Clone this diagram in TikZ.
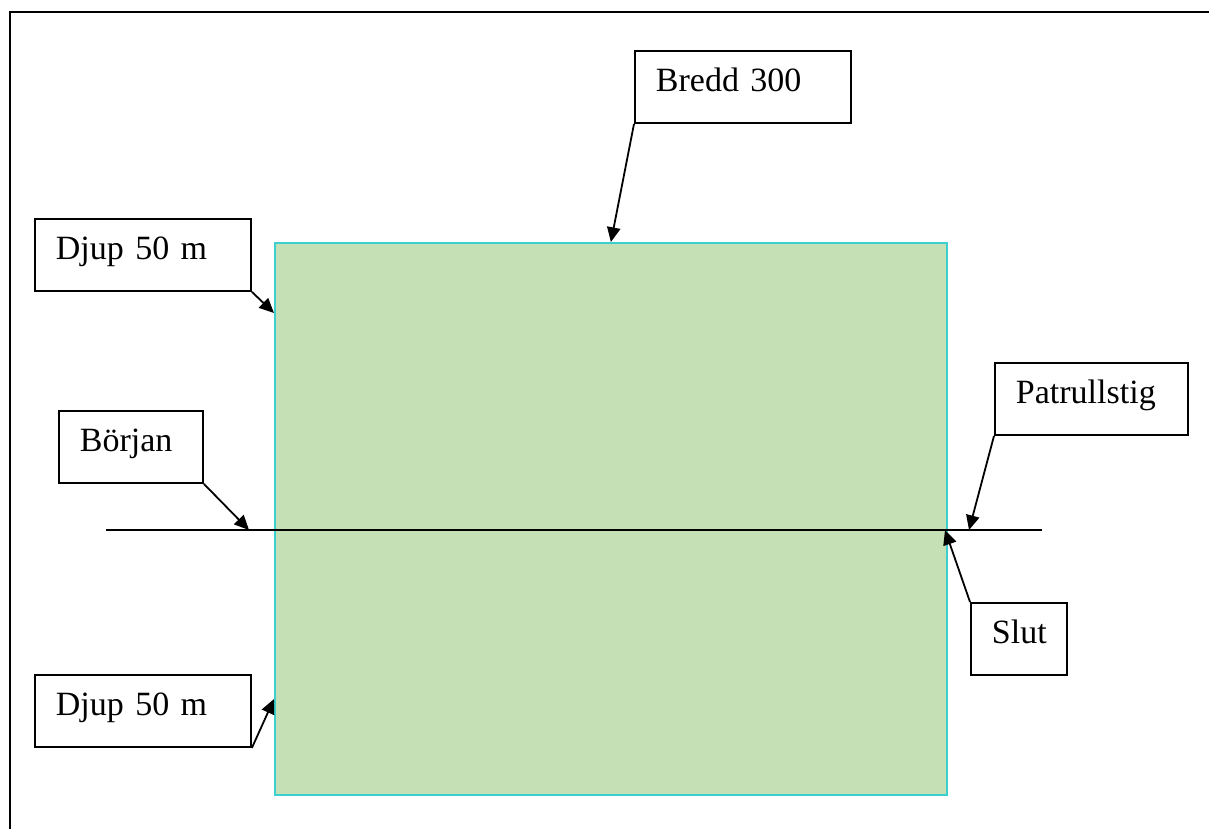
\documentclass[tikz,border=0pt]{standalone}
\usepackage{fontspec}
\setmainfont{Liberation Serif}
\usetikzlibrary{arrows.meta}
\newlength\px
\setlength\px{0.75pt}
\definecolor{fieldgreen}{HTML}{C5E0B4}
\definecolor{fieldedge}{HTML}{3CCFCF}
\begin{document}
\begin{tikzpicture}[x=\px,y=-\px,
  lbl/.style={draw=black, line width=1.9\px, anchor=north west, fill=white,
    minimum height=72\px, inner xsep=21\px, inner ysep=0pt,
    text height=28\px, text depth=18\px, align=left,
    font={\fontsize{25.5}{30}\selectfont\spaceskip=0.21em plus 0.05em\relax}},
  ptr/.style={line width=1.8\px, -{Triangle[length=11pt,width=10pt]}},
  fieldbox/.style={fill=fieldgreen, draw=fieldedge, line width=1.8\px,
    minimum width=672\px, minimum height=552\px, anchor=north west, inner sep=0pt}]
\useasboundingbox (0,0) rectangle (1209,828);
\clip (0,0) rectangle (1209,828);
\fill[white] (0,0) rectangle (1209,828);
% outer frame (cut off at right and bottom)
\draw[line width=2.3\px] (10,12) rectangle (1240,860);
% field
\node[fieldbox] (field) at (274,242) {};
% patrol path
\coordinate (pathW) at (106,530);
\coordinate (pathE) at (1042,530);
\draw[line width=2\px] (pathW) -- (pathE);
% targets
\coordinate (startpt) at (249,530);
\coordinate (patpt) at (969,530);
\coordinate (endpt) at (945,530);
\coordinate (djupApt) at (274,313);
\coordinate (djupBpt) at (274,699);
% labels
\node[lbl, text width=174\px] (bredd) at (634,50) {Bredd 300};
\node[lbl, text width=174\px] (djupA) at (34,218) {Djup 50 m};
\node[lbl, text width=102\px] (borjan) at (58,410) {Början};
\node[lbl, text width=151\px] (patr) at (994,362) {Patrullstig};
\node[lbl, text width=54\px] (slut) at (970,602) {Slut};
\node[lbl, text width=174\px] (djupB) at (34,674) {Djup 50 m};
% arrows
\draw[ptr] (bredd.south west) -- (field.north);
\draw[ptr] (djupA.south east) -- (djupApt);
\draw[ptr] (borjan.south east) -- (startpt);
\draw[ptr] (patr.south west) -- (patpt);
\draw[ptr] (slut.north west) -- (endpt);
\draw[ptr] (djupB.south east) -- (djupBpt);
\end{tikzpicture}
\end{document}
